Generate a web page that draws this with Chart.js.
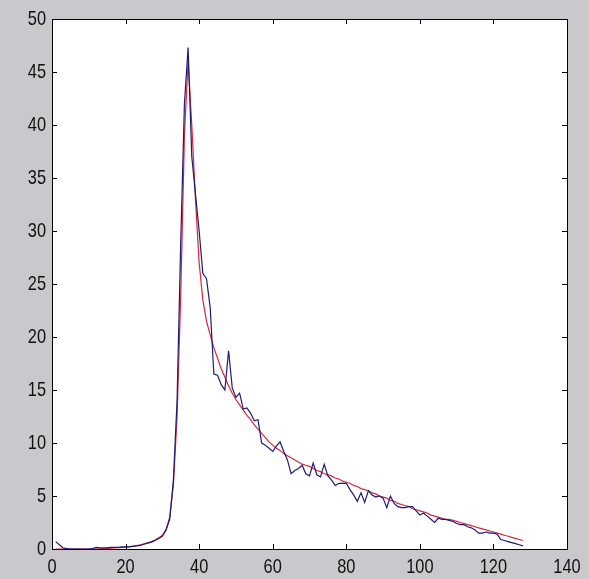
<!DOCTYPE html>
<html>
<head>
<meta charset="utf-8">
<script src="https://cdn.jsdelivr.net/npm/chart.js@4/dist/chart.umd.min.js"></script>
<style>
  html, body { margin: 0; padding: 0; background: #c9c9cd; }
  canvas { display: block; }
</style>
</head>
<body>
<canvas id="chart" width="589" height="579"></canvas>
<script>
/* ── Data ── */
const X_VALUES = Array.from({ length: 128 }, (_, i) => i + 1);

const MEASURED = [
  0.7, 0.4, 0.1, 0.05, 0, 0, 0, 0, 0, 0,
  0.05, 0.15, 0.1, 0.1, 0.1, 0.15, 0.15, 0.15, 0.2, 0.2,
  0.2, 0.25, 0.3, 0.35, 0.45, 0.55, 0.65, 0.8, 1.0, 1.2,
  1.8, 2.8, 6.5, 14, 29, 42, 47.3, 37, 33.5, 30,
  26, 25.5, 22.8, 16.5, 16.4, 15.5, 15, 18.7, 15.2, 14.3,
  14.7, 13.2, 13.3, 12.8, 12.1, 12.2, 10, 9.8, 9.5, 9.2,
  9.7, 10.1, 9.2, 8.4, 7.1, 7.4, 7.6, 7.9, 7.1, 6.9,
  8.1, 7.0, 6.8, 8.0, 6.9, 6.5, 6.0, 6.2, 6.2, 6.2,
  5.6, 5.1, 4.5, 5.3, 4.4, 5.5, 5.1, 4.9, 5.0, 4.8,
  3.9, 5.0, 4.3, 4.0, 3.9, 3.9, 4.0, 4.0, 3.6, 3.2,
  3.4, 3.1, 2.8, 2.5, 2.9, 2.8, 2.8, 2.7, 2.6, 2.4,
  2.3, 2.3, 2.1, 2.0, 1.8, 1.5, 1.5, 1.6, 1.5, 1.5,
  1.4, 0.9, 0.8, 0.7, 0.6, 0.5, 0.4, 0.3,
];

const FITTED = [
  0, 0, 0, 0, 0, 0, 0, 0, 0, 0,
  0, 0, 0.02, 0.03, 0.05, 0.07, 0.1, 0.12, 0.15, 0.18,
  0.22, 0.27, 0.33, 0.4, 0.48, 0.58, 0.7, 0.85, 1.05, 1.3,
  1.8, 3.0, 6.0, 12.5, 24, 39, 46, 40, 33, 27,
  23.5, 21.5, 20.2, 19.0, 18.0, 17.0, 16.2, 15.4, 14.7, 14.1,
  13.6, 13.1, 12.6, 12.2, 11.7, 11.3, 10.9, 10.5, 10.1, 9.8,
  9.5, 9.3, 9.0, 8.8, 8.6, 8.4, 8.2, 8.0, 7.9, 7.8,
  7.6, 7.4, 7.3, 7.1, 7.0, 6.9, 6.7, 6.6, 6.4, 6.3,
  6.2, 6.0, 5.9, 5.7, 5.6, 5.5, 5.3, 5.2, 5.0, 4.9,
  4.8, 4.6, 4.5, 4.3, 4.2, 4.1, 4.0, 3.8, 3.7, 3.6,
  3.5, 3.4, 3.2, 3.1, 3.0, 2.9, 2.8, 2.8, 2.7, 2.6,
  2.5, 2.4, 2.3, 2.2, 2.1, 2.0, 1.9, 1.8, 1.7, 1.6,
  1.5, 1.4, 1.3, 1.2, 1.1, 1.0, 0.9, 0.8,
];

const X_TICKS = [0, 20, 40, 60, 80, 100, 120, 140];
const Y_TICKS = [0, 5, 10, 15, 20, 25, 30, 35, 40, 45, 50];

/* ── Style ── */
const FIG_BG    = '#c9c9cd';
const LABEL_FNT = '21px "Liberation Sans", Arial, sans-serif';
const SQUEEZE   = 0.78;  // narrow glyphs, like the old Helvetica tick labels
const TICK_LEN  = 5;

/* ── Narrow text helper ── */
function squeezedText(ctx, text, x, y, align, baseline) {
  ctx.save();
  ctx.translate(x, y);
  ctx.scale(SQUEEZE, 1);
  ctx.textAlign    = align;
  ctx.textBaseline = baseline;
  ctx.fillText(text, 0, 0);
  ctx.restore();
}

/* ── MATLAB-like frame: grey figure, white axes, boxed with inward ticks ── */
const framePlugin = {
  id: 'matlabFrame',
  beforeDraw(chart) {
    const { ctx, chartArea: a } = chart;
    ctx.save();
    ctx.fillStyle = FIG_BG;
    ctx.fillRect(0, 0, chart.width, chart.height);
    ctx.fillStyle = '#fff';
    ctx.fillRect(a.left, a.top, a.right - a.left, a.bottom - a.top);
    ctx.restore();
  },
  afterDraw(chart) {
    const { ctx, chartArea: a, scales } = chart;
    ctx.save();
    ctx.strokeStyle = '#000';
    ctx.lineWidth = 1;
    ctx.beginPath();
    X_TICKS.forEach(v => {
      const x = Math.round(scales.x.getPixelForValue(v)) + 0.5;
      ctx.moveTo(x, a.bottom); ctx.lineTo(x, a.bottom - TICK_LEN);
      ctx.moveTo(x, a.top);    ctx.lineTo(x, a.top + TICK_LEN);
    });
    Y_TICKS.forEach(v => {
      const y = Math.round(scales.y.getPixelForValue(v)) + 0.5;
      ctx.moveTo(a.left, y);  ctx.lineTo(a.left + TICK_LEN, y);
      ctx.moveTo(a.right, y); ctx.lineTo(a.right - TICK_LEN, y);
    });
    ctx.stroke();
    ctx.strokeRect(Math.round(a.left) + 0.5, Math.round(a.top) + 0.5,
                   Math.round(a.right - a.left), Math.round(a.bottom - a.top));

    // tick labels
    ctx.fillStyle = '#111';
    ctx.font = LABEL_FNT;
    X_TICKS.forEach(v => {
      squeezedText(ctx, String(v), scales.x.getPixelForValue(v), a.bottom + 8, 'center', 'top');
    });
    Y_TICKS.forEach(v => {
      squeezedText(ctx, String(v), a.left - 6, scales.y.getPixelForValue(v), 'right', 'middle');
    });
    ctx.restore();
  },
};

/* ── Chart ── */
new Chart(document.getElementById('chart'), {
  type: 'line',
  plugins: [framePlugin],
  data: {
    datasets: [
      {
        label:       'measured',
        data:        X_VALUES.map((x, i) => ({ x, y: MEASURED[i] })),
        borderColor: '#1c1c78',
        borderWidth: 1.2,
        pointRadius: 0,
        tension:     0,
      },
      {
        label:       'fit',
        data:        X_VALUES.map((x, i) => ({ x, y: FITTED[i] })),
        borderColor: '#d8283c',
        borderWidth: 1.2,
        pointRadius: 0,
        tension:     0,
      },
    ],
  },
  options: {
    responsive: false,
    animation:  false,
    layout: { padding: { left: 0, right: 22, top: 19, bottom: 0 } },
    plugins: {
      legend:  { display: false },
      tooltip: { enabled: false },
    },
    scales: {
      x: {
        type: 'linear',
        min: 0, max: 140,
        afterFit: s => { s.height = 30; },
        afterBuildTicks: s => { s.ticks = X_TICKS.map(v => ({ value: v })); },
        grid:   { display: false, drawTicks: false },
        border: { display: false },
        ticks:  { display: false },
      },
      y: {
        min: 0, max: 50,
        afterFit: s => { s.width = 52; },
        afterBuildTicks: s => { s.ticks = Y_TICKS.map(v => ({ value: v })); },
        grid:   { display: false, drawTicks: false },
        border: { display: false },
        ticks:  { display: false },
      },
    },
  },
});
</script>
</body>
</html>
